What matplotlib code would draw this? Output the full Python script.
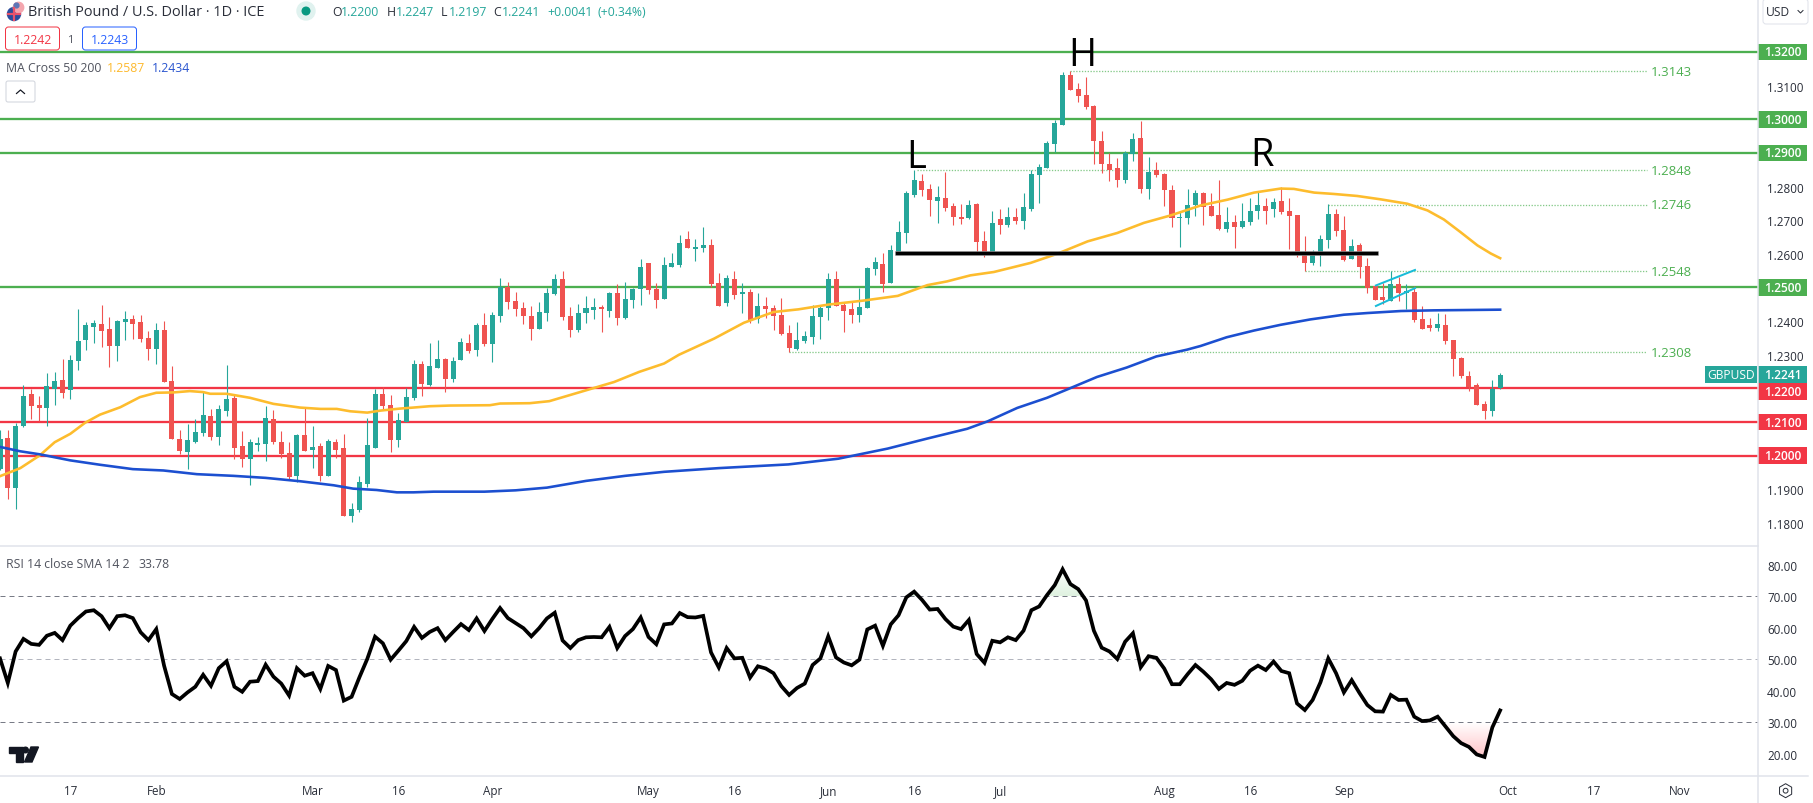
import numpy as np
import matplotlib
matplotlib.use("Agg")
import matplotlib.pyplot as plt
from matplotlib.patches import Rectangle, Circle, FancyBboxPatch, RegularPolygon, Polygon

# ---------- data ----------
highs = [1.2075,1.2077,1.2098,1.2211,1.2197,1.2178,1.2247,1.2250,1.2288,1.2300,
1.2437,1.2398,1.2404,1.2449,1.2413,1.2404,1.2431,1.2419,1.2419,1.2371,
1.2395,1.2401,1.2267,1.2077,1.2095,1.2110,1.2193,1.2139,1.2151,1.2270,
1.2181,1.2074,1.2050,1.2056,1.2148,1.2137,1.2074,1.2041,1.2065,1.2142,
1.2089,1.2038,1.2050,1.2050,1.2065,1.1860,1.1940,1.2113,1.2199,1.2205,
1.2181,1.2128,1.2202,1.2285,1.2282,1.2336,1.2345,1.2291,1.2294,1.2351,
1.2363,1.2393,1.2423,1.2426,1.2527,1.2515,1.2488,1.2458,1.2444,1.2458,
1.2497,1.2539,1.2548,1.2441,1.2452,1.2476,1.2470,1.2449,1.2488,1.2509,
1.2515,1.2497,1.2586,1.2574,1.2512,1.2592,1.2601,1.2655,1.2669,1.2643,
1.2681,1.2643,1.2542,1.2536,1.2548,1.2512,1.2494,1.2485,1.2473,1.2449,
1.2470,1.2387,1.2396,1.2372,1.2449,1.2446,1.2542,1.2548,1.2455,1.2461,
1.2497,1.2562,1.2592,1.2601,1.2625,1.2699,1.2788,1.2850,1.2838,1.2808,
1.2802,1.2844,1.2752,1.2749,1.2760,1.2752,1.2668,1.2728,1.2734,1.2740,
1.2737,1.2781,1.2850,1.2867,1.2936,1.2998,1.3141,1.3144,1.3108,1.3126,
1.3043,1.2965,1.2900,1.2885,1.2906,1.2959,1.2995,1.2888,1.2873,1.2841,
1.2805,1.2728,1.2793,1.2790,1.2784,1.2781,1.2820,1.2740,1.2716,1.2752,
1.2767,1.2787,1.2766,1.2766,1.2799,1.2766,1.2716,1.2654,1.2612,1.2657,
1.2749,1.2734,1.2713,1.2645,1.2633,1.2588,1.2508,1.2514,1.2550,1.2532,
1.2511,1.2505,1.2445,1.2410,1.2425,1.2422,1.2344,1.2294,1.2252,1.2217,
1.2163,1.2226,1.2247]
opens = [1.1959,1.2053,1.1905,1.2089,1.2184,1.2151,1.2142,1.2199,1.2226,1.2196,
1.2282,1.2345,1.2383,1.2392,1.2377,1.2327,1.2398,1.2407,1.2398,1.2351,
1.2318,1.2374,1.2223,1.2050,1.2012,1.2041,1.2068,1.2119,1.2056,1.2134,
1.2172,1.2030,1.1991,1.2032,1.2035,1.2110,1.2041,1.2009,1.1940,1.2062,
1.2018,1.2030,1.1940,1.2041,1.2024,1.1821,1.1839,1.1917,1.2024,1.2184,
1.2151,1.2047,1.2101,1.2172,1.2273,1.2211,1.2261,1.2288,1.2229,1.2283,
1.2336,1.2313,1.2387,1.2331,1.2414,1.2500,1.2461,1.2438,1.2414,1.2378,
1.2423,1.2482,1.2524,1.2414,1.2375,1.2423,1.2432,1.2441,1.2429,1.2485,
1.2408,1.2464,1.2494,1.2574,1.2494,1.2467,1.2562,1.2568,1.2643,1.2613,
1.2616,1.2625,1.2512,1.2455,1.2524,1.2482,1.2488,1.2405,1.2446,1.2438,
1.2417,1.2366,1.2316,1.2342,1.2354,1.2411,1.2438,1.2524,1.2449,1.2435,
1.2417,1.2438,1.2556,1.2571,1.2512,1.2601,1.2661,1.2775,1.2817,1.2793,
1.2757,1.2766,1.2743,1.2710,1.2707,1.2749,1.2639,1.2606,1.2704,1.2686,
1.2710,1.2698,1.2734,1.2835,1.2855,1.2927,1.2983,1.3132,1.3090,1.3072,
1.3040,1.2936,1.2867,1.2855,1.2820,1.2897,1.2945,1.2793,1.2850,1.2838,
1.2790,1.2707,1.2707,1.2746,1.2781,1.2743,1.2716,1.2674,1.2695,1.2680,
1.2695,1.2728,1.2743,1.2734,1.2757,1.2728,1.2716,1.2603,1.2573,1.2597,
1.2642,1.2719,1.2671,1.2585,1.2627,1.2564,1.2505,1.2472,1.2460,1.2511,
1.2484,1.2487,1.2407,1.2389,1.2380,1.2389,1.2344,1.2291,1.2237,1.2211,
1.2154,1.2133,1.2200]
closes = [1.2050,1.1905,1.2089,1.2178,1.2148,1.2142,1.2208,1.2223,1.2187,1.2285,
1.2342,1.2389,1.2395,1.2371,1.2327,1.2401,1.2407,1.2392,1.2348,1.2318,
1.2374,1.2220,1.2050,1.2015,1.2047,1.2071,1.2122,1.2056,1.2139,1.2169,
1.2024,1.1991,1.2041,1.2038,1.2113,1.2041,1.2006,1.1937,1.2062,1.2015,
1.2027,1.1940,1.2044,1.2018,1.1821,1.1842,1.1922,1.2032,1.2184,1.2148,
1.2047,1.2107,1.2175,1.2273,1.2214,1.2267,1.2288,1.2229,1.2282,1.2339,
1.2310,1.2387,1.2331,1.2417,1.2500,1.2458,1.2435,1.2414,1.2378,1.2426,
1.2485,1.2524,1.2411,1.2375,1.2423,1.2438,1.2441,1.2435,1.2485,1.2408,
1.2467,1.2494,1.2562,1.2491,1.2464,1.2568,1.2574,1.2631,1.2616,1.2619,
1.2625,1.2509,1.2446,1.2527,1.2479,1.2488,1.2402,1.2446,1.2435,1.2414,
1.2363,1.2319,1.2345,1.2357,1.2414,1.2438,1.2524,1.2446,1.2429,1.2417,
1.2441,1.2559,1.2577,1.2509,1.2610,1.2664,1.2782,1.2820,1.2790,1.2760,
1.2769,1.2737,1.2710,1.2704,1.2746,1.2636,1.2600,1.2692,1.2686,1.2710,
1.2698,1.2740,1.2838,1.2858,1.2930,1.2989,1.3132,1.3087,1.3069,1.3037,
1.2936,1.2867,1.2850,1.2820,1.2900,1.2942,1.2793,1.2844,1.2835,1.2790,
1.2707,1.2710,1.2746,1.2781,1.2740,1.2713,1.2674,1.2695,1.2680,1.2698,
1.2728,1.2746,1.2728,1.2754,1.2725,1.2713,1.2600,1.2573,1.2600,1.2645,
1.2719,1.2668,1.2582,1.2624,1.2561,1.2499,1.2463,1.2463,1.2511,1.2484,
1.2490,1.2404,1.2377,1.2380,1.2392,1.2341,1.2288,1.2237,1.2205,1.2151,
1.2133,1.2199,1.2241]
lows = [1.1956,1.1872,1.1842,1.2085,1.2110,1.2104,1.2089,1.2151,1.2172,1.2169,
1.2255,1.2315,1.2336,1.2324,1.2264,1.2282,1.2345,1.2348,1.2339,1.2285,
1.2273,1.2220,1.2050,1.2006,1.1961,1.2038,1.2059,1.2047,1.2032,1.2119,
1.1991,1.1967,1.1914,1.2015,1.1985,1.2035,1.1994,1.1928,1.1922,1.2015,
1.1964,1.1925,1.1940,1.1994,1.1821,1.1804,1.1833,1.1908,1.2024,1.2137,
1.2012,1.2027,1.2101,1.2166,1.2178,1.2208,1.2261,1.2190,1.2220,1.2283,
1.2304,1.2295,1.2325,1.2277,1.2396,1.2435,1.2414,1.2390,1.2345,1.2378,
1.2399,1.2479,1.2402,1.2354,1.2369,1.2393,1.2405,1.2369,1.2411,1.2387,
1.2405,1.2438,1.2449,1.2482,1.2438,1.2467,1.2562,1.2562,1.2616,1.2580,
1.2604,1.2500,1.2446,1.2446,1.2467,1.2423,1.2393,1.2393,1.2408,1.2375,
1.2360,1.2307,1.2313,1.2336,1.2331,1.2348,1.2402,1.2444,1.2369,1.2393,
1.2396,1.2438,1.2536,1.2488,1.2512,1.2601,1.2631,1.2769,1.2772,1.2713,
1.2692,1.2728,1.2686,1.2689,1.2704,1.2606,1.2591,1.2600,1.2659,1.2680,
1.2689,1.2674,1.2728,1.2752,1.2855,1.2903,1.2983,1.3087,1.3051,1.3031,
1.2867,1.2841,1.2817,1.2799,1.2811,1.2876,1.2781,1.2763,1.2829,1.2743,
1.2680,1.2621,1.2689,1.2713,1.2686,1.2713,1.2671,1.2665,1.2618,1.2677,
1.2686,1.2704,1.2689,1.2710,1.2719,1.2615,1.2591,1.2550,1.2567,1.2564,
1.2618,1.2654,1.2579,1.2585,1.2529,1.2484,1.2463,1.2451,1.2460,1.2460,
1.2437,1.2398,1.2377,1.2371,1.2371,1.2333,1.2237,1.2231,1.2193,1.2151,
1.2110,1.2118,1.2197]
rsi = [50.3,42.5,52.5,56.5,54.9,54.6,57.5,58.4,56.1,60.7,63.1,65.2,65.6,63.7,59.9,63.7,64.0,63.1,58.6,56.1,
59.6,48.0,39.0,37.4,39.5,41.3,45.1,41.6,47.2,49.4,41.3,39.7,42.9,43.1,48.3,44.5,42.3,38.5,47.2,44.8,
45.6,40.6,47.9,46.6,36.9,38.1,44.3,50.1,57.2,55.1,49.9,52.8,55.8,60.3,56.8,58.7,59.9,56.1,58.7,61.2,
59.3,63.0,59.0,62.8,66.3,63.1,61.5,59.9,57.3,59.9,63.0,64.8,56.0,53.6,56.1,57.0,57.1,57.0,60.3,53.6,
57.4,59.6,63.3,57.1,54.8,61.1,61.4,64.7,63.4,63.3,63.8,52.2,47.4,53.6,50.3,50.5,44.2,47.8,47.1,45.6,
41.5,38.7,40.9,42.3,48.2,50.3,57.3,50.6,49.0,48.1,49.9,59.5,60.7,54.3,61.1,64.0,69.7,71.5,68.9,65.8,
66.0,62.8,60.4,59.6,62.5,51.7,48.9,55.9,55.4,57.0,56.1,59.1,65.6,66.8,70.4,73.6,78.6,73.9,72.3,68.7,
59.1,53.7,52.5,50.1,55.6,58.3,47.5,51.0,50.5,47.1,42.1,42.1,45.3,48.2,46.1,43.7,40.6,42.5,41.9,43.2,
46.4,48.0,46.6,49.3,46.3,45.6,36.0,33.9,37.1,42.7,50.3,45.6,39.5,43.4,39.3,35.5,33.5,33.4,38.7,37.1,
37.2,31.8,30.4,30.6,31.8,28.7,25.6,23.4,22.2,19.8,19.0,28.4,33.78]

ma50_idx = [0,2.6,5.1,7,9,10.9,12.8,15.4,17.9,20,22.2,24.3,26,26.9,29,32,35,38.4,41,43.1,44.8,47,48.7,51.2,52.9,55,
57.6,62.7,64,67.8,70.3,75.4,78.6,81.8,85,86.9,91.4,95.2,99,102.2,106,110.5,114.9,118.7,121.2,124.2,127.2,131.9,
135.3,139.2,143,146.4,149.8,153.7,157.1,160.5,163.9,165.6,168.2,170.7,173.7,176.7,180.1,182.7,184.8,186.9,189.1,190.8,192]
ma50_val = [1.1939,1.1963,1.2001,1.2040,1.2065,1.2098,1.2122,1.2144,1.2174,1.2187,1.2188,1.2192,1.2189,1.2184,1.2184,1.2172,1.2154,1.2143,1.2139,1.2139,1.2132,1.2128,1.2134,1.2140,1.2143,1.2147,
1.2149,1.2150,1.2155,1.2156,1.2162,1.2197,1.2219,1.2249,1.2274,1.2300,1.2348,1.2395,1.2427,1.2435,1.2449,1.2461,1.2475,1.2507,1.2518,1.2536,1.2546,1.2573,
1.2600,1.2637,1.2662,1.2692,1.2714,1.2744,1.2761,1.2782,1.2794,1.2793,1.2782,1.2778,1.2772,1.2762,1.2749,1.2729,1.2702,1.2665,1.2625,1.2601,1.2587]
ma200_idx = [0,2.6,5.1,9,12.8,17,20.9,25.2,29.9,34,38.4,42.7,45.2,48.2,50.8,52.9,55.5,58.9,62,66,70,75,80,85,92,100.9,107.3,113.6,118.7,123.8,126.4,
130.2,134,136.6,140.4,144.2,148,151.9,153.65,157,160.5,163.9,167.7,172,175,179.3,183.5,187.8,192]
ma200_val = [1.2026,1.2013,1.2004,1.1986,1.1973,1.1960,1.1956,1.1945,1.1940,1.1934,1.1924,1.1912,1.1902,1.1898,1.1891,1.1891,1.1893,1.1893,1.1893,1.1897,1.1905,1.1925,1.1940,1.1952,1.1963,1.1974,1.1991,1.2021,1.2051,1.2080,1.2102,
1.2142,1.2172,1.2197,1.2234,1.2262,1.2295,1.2315,1.2326,1.2352,1.2372,1.2389,1.2405,1.2419,1.2424,1.2430,1.2432,1.2433,1.2434]

green_levels = [1.32, 1.30, 1.29, 1.25]
red_levels = [1.22, 1.21, 1.20]
swing_start = [137, 117.4, 170, 167, 101]
swing_price = [1.3143, 1.2848, 1.2746, 1.2548, 1.2308]
neck_idx = [114.8, 176.1]
neck_price = [1.2602, 1.2602]
flag_idx = [176.1, 181.1]
flag_upper = [1.2506, 1.2552]
flag_lower = [1.2445, 1.2498]
price_ticks = [1.31, 1.28, 1.27, 1.26, 1.24, 1.23, 1.19, 1.18]
rsi_ticks = [80, 70, 60, 50, 40, 30, 20]
date_idx = [9, 20, 40, 51, 63, 83, 94, 106, 117, 128, 149, 160, 172, 193, 204, 215]
date_labels = ['17','Feb','Mar','16','Apr','May','16','Jun','16','Jul','Aug','16','Sep','Oct','17','Nov']

GREEN, RED = '#26a69a', '#ef5350'
LVL_G, LVL_R = '#4caf50', '#f23645'
TXT = '#2a2e39'
GRID = '#e0e3eb'
FONT = 'Open Sans'
plt.rcParams['font.family'] = [FONT, 'DejaVu Sans']
px = 0.72  # points per pixel at dpi 100

W, H = 1813, 804
fig = plt.figure(figsize=(W/100, H/100), dpi=100, facecolor='white')
ax = fig.add_axes([0, 1-547.3/H, 1758/W, 547.3/H])
ar = fig.add_axes([0, 1-777.3/H, 1758/W, 230/H])
for a in (ax, ar):
    a.set_xlim(0, 225)
    for s in a.spines.values():
        s.set_visible(False)
    a.yaxis.tick_right()
    a.tick_params(length=0, labelsize=11.6*px, labelcolor=TXT, pad=9*px)
ax.set_ylim(1.17306, 1.33575)
ar.set_ylim(12.86, 85.9)
ax.set_xticks([])
ax.set_yticks(price_ticks)
ax.set_yticklabels([f'{p:.4f}' for p in price_ticks])
ar.set_yticks(rsi_ticks)
ar.set_yticklabels([f'{v:.2f}' for v in rsi_ticks])
ar.set_xticks(date_idx)
ar.set_xticklabels(date_labels)
ar.tick_params(axis='x', pad=8*px)

# levels
for p in green_levels:
    ax.axhline(p, color=LVL_G, lw=2.3*px, zorder=1)
for p in red_levels:
    ax.axhline(p, color=LVL_R, lw=2.3*px, zorder=1)
for s, p in zip(swing_start, swing_price):
    ax.plot([s, 210.8], [p, p], color='#84c988', lw=1.3*px, ls=(0, (1, 1.2)), zorder=1.5)
    ax.text(211.3, p, f'{p:.4f}', color=LVL_G, fontsize=13.1*px, va='center', ha='left')

# candles
idx = np.arange(len(closes))
for i in idx:
    o, h, l, c = opens[i], highs[i], lows[i], closes[i]
    col = GREEN if c >= o else RED
    ax.plot([i, i], [l, h], color=col, lw=1.1*px, solid_capstyle='butt', zorder=2)
    ax.bar(i, abs(c-o), bottom=min(o, c), width=0.64, color=col, linewidth=0, zorder=3)

# moving averages
ax.plot(ma50_idx, ma50_val, color='#fdbc2d', lw=2.6*px, zorder=4)
ax.plot(ma200_idx, ma200_val, color='#1c4fd0', lw=2.6*px, zorder=4)

# drawings
ax.plot(neck_idx, neck_price, color='#9a9a9a', lw=4.6*px, zorder=5)
ax.plot(neck_idx, neck_price, color='black', lw=3.4*px, zorder=5.1)
ax.plot(flag_idx, flag_upper, color='#18bcd8', lw=2*px, zorder=5)
ax.plot(flag_idx, flag_lower, color='#18bcd8', lw=2*px, zorder=5)

# RSI
ar.axhline(70, color='#787b86', lw=1*px, ls=(0, (5, 4)), zorder=1)
ar.axhline(50, color='#b2b5be', lw=1*px, ls=(0, (5, 4)), zorder=1)
ar.axhline(30, color='#787b86', lw=1*px, ls=(0, (5, 4)), zorder=1)
x = np.arange(len(rsi))
rv = np.array(rsi)
def grad(level, where, col, vmin, vmax):
    poly = ar.fill_between(x, rv, level, where=where, interpolate=True, color='none', linewidth=0)
    rgba = np.ones((64, 1, 4))
    rgba[..., :3] = matplotlib.colors.to_rgb(col)
    rgba[..., 3] = np.linspace(1, 0, 64)[:, None]
    for pth in poly.get_paths():
        im = ar.imshow(rgba, extent=(0, 225, vmin, vmax), origin='lower', aspect='auto', zorder=1.5)
        im.set_clip_path(pth, transform=ar.transData)
grad(30, rv < 30, '#ffc4c8', 19, 30)
grad(70, rv > 70, '#dff2e0', 70, 78.6)
ar.set_xlim(0, 225); ar.set_ylim(12.86, 85.9)
ar.plot(x, rv, color='black', lw=3.7*px, zorder=3, solid_joinstyle='miter')

# chrome overlay in pixel coordinates
ch = fig.add_axes([0, 0, 1, 1], zorder=10)
ch.set_xlim(0, W); ch.set_ylim(H, 0); ch.axis('off'); ch.patch.set_alpha(0)
ch.plot([0, 1758], [547.3, 547.3], color=GRID, lw=1.5*px)
ch.plot([0, W-5], [777.3, 777.3], color=GRID, lw=1.5*px)
ch.plot([1758, 1758], [0, H], color=GRID, lw=1.5*px)

def T(xp, yp, s, size=12.5, color=TXT, ha='left', **kw):
    return ch.text(xp, yp, s, fontsize=size*px, color=color, ha=ha, va='center', **kw)

# pattern letters
for xp, yp, s in [(916, 158.5, 'L'), (1082, 56.5, 'H'), (1262, 156.5, 'R')]:
    T(xp, yp, s, size=38, color='black', ha='center')

# header
ch.add_patch(Circle((14, 15), 6.5, color='#2b4c9c'))
ch.plot([8, 20], [15, 15], color='#e8526a', lw=2.2*px)
ch.plot([14, 14], [9, 21], color='#e8526a', lw=2.2*px)
ch.add_patch(Circle((18.5, 8.5), 5.2, color='#f4a6ae'))
ch.add_patch(Circle((16.5, 6.5), 2.4, color='#5b76b8'))
T(28, 12.5, 'British Pound / U.S. Dollar · 1D · ICE', size=14.5)
ch.add_patch(Circle((306, 12), 9, color='#e0f2ef'))
ch.add_patch(Circle((306, 12), 3.8, color='#089981'))
for xp, s in [(332, 'O'), (387, 'H'), (441, 'L'), (493, 'C')]:
    T(xp, 12.5, s, size=12.3)
for xp, s in [(341, '1.2200'), (396, '1.2247'), (449, '1.2197'), (502, '1.2241'), (547, '+0.0041'), (597, '(+0.34%)')]:
    T(xp, 12.5, s, size=12.3, color='#26a69a')

for x0, col, s in [(5.5, '#f23645', '1.2242'), (82.5, '#2962ff', '1.2243')]:
    ch.add_patch(FancyBboxPatch((x0+3, 31), 48, 17, boxstyle='round,pad=3,rounding_size=3', fc='white', ec=col, lw=1*px))
    T(x0+27, 40.5, s, size=12.3, color=col, ha='center')
T(71, 40.5, '1', size=11, ha='center', color='#50535e')
T(6, 68.5, 'MA Cross 50 200', size=12.2, color='#50535e')
T(107, 68.5, '1.2587', size=12.2, color='#fdb92d')
T(152, 68.5, '1.2434', size=12.2, color='#2a55cf')
ch.add_patch(FancyBboxPatch((8, 84), 25, 17, boxstyle='round,pad=2,rounding_size=2', fc='white', ec='#d1d4dc', lw=1*px))
ch.plot([16.5, 20.5, 24.5], [94.5, 91, 94.5], color='#131722', lw=1.2*px)
T(6, 565, 'RSI 14 close SMA 14 2', size=12.2, color='#50535e')
T(138, 565, '33.78', size=12.2, color='#50535e')

# USD button
ch.add_patch(FancyBboxPatch((1765, 2), 41, 21, boxstyle='round,pad=2,rounding_size=3', fc='white', ec=GRID, lw=1*px))
T(1766, 12.5, 'USD', size=12)
ch.plot([1798, 1800.5, 1803], [11.5, 14, 11.5], color=TXT, lw=1*px)

# level tags on the price axis
def ypx(p):
    return H - ax.transData.transform((0, p))[1]
def tag(p, col, s, dy=0.0):
    yc = ypx(p) + dy
    ch.add_patch(Rectangle((1758, yc-8.4), 49, 16.8, fc=col, ec='none'))
    T(1782.5, yc, s, size=12, color='white', ha='center', fontweight='semibold')
for p in green_levels:
    tag(p, LVL_G, f'{p:.4f}')
for p, d in zip(red_levels, [3.4, 0, 0]):
    tag(p, LVL_R, f'{p:.4f}', d)
last = closes[-1]
tag(last, '#26a69a', f'{last:.4f}')
yc = ypx(last)
ch.add_patch(Rectangle((1705, yc-8.4), 52, 16.8, fc='#26a69a', ec='none'))
T(1731, yc, 'GBPUSD', size=12, color='white', ha='center')

# settings icon
ch.add_patch(RegularPolygon((1785.6, 791.7), 6, radius=7, fc='none', ec=TXT, lw=1*px))
ch.add_patch(Circle((1785.6, 791.7), 2.4, fc='none', ec=TXT, lw=1*px))

# TV logo
ch.add_patch(Polygon([(9, 748), (23, 748), (23, 763), (16, 763), (16, 754), (9, 754)], color='#131722'))
ch.add_patch(Circle((25.5, 751), 2.8, color='#131722'))
ch.add_patch(Polygon([(31, 748), (38.5, 748), (32, 763), (24.5, 763)], color='#131722'))

fig.savefig('out.png', dpi=100, facecolor='white')
